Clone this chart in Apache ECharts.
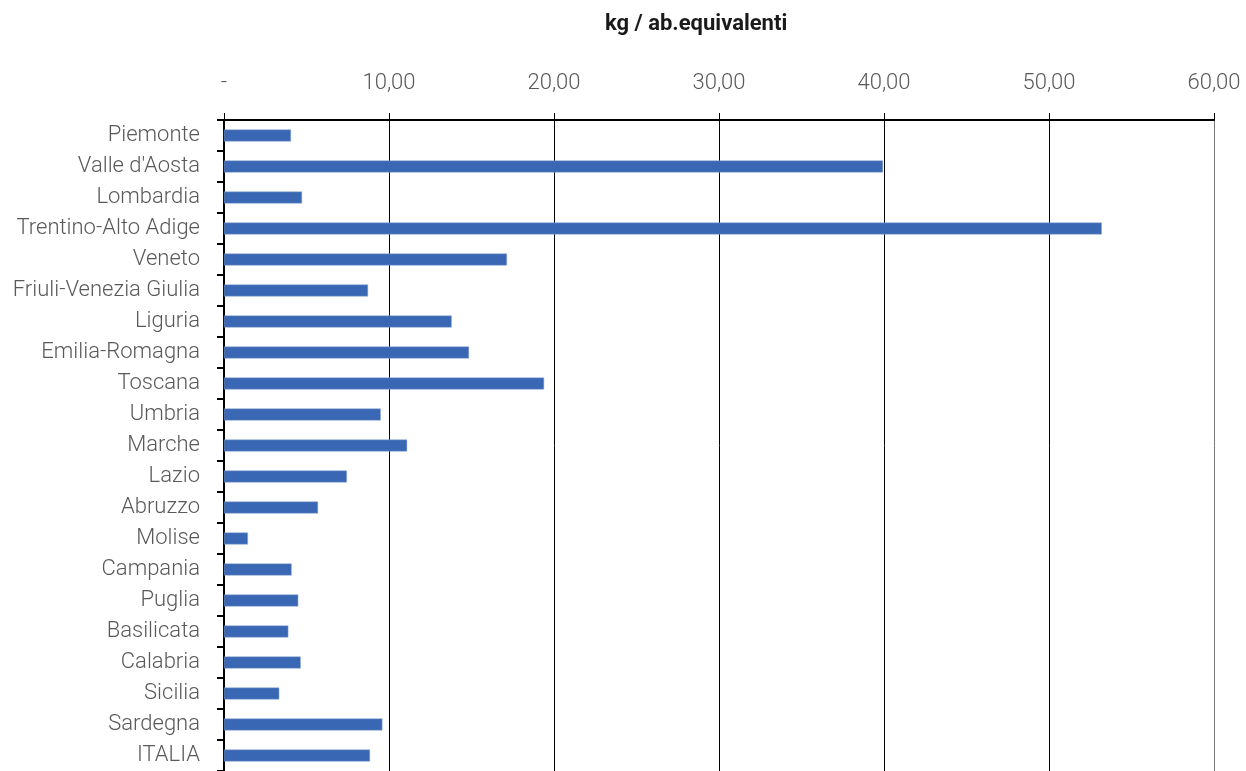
<!DOCTYPE html>
<html>
<head>
<meta charset="utf-8">
<script src="https://cdn.jsdelivr.net/npm/echarts@6/dist/echarts.min.js"></script>
<style>html,body{margin:0;padding:0;background:#fff}#c{width:1246px;height:771px}</style>
</head>
<body>
<div id="c"></div>
<script>
const categories = ["Piemonte","Valle d'Aosta","Lombardia","Trentino-Alto Adige","Veneto","Friuli-Venezia Giulia","Liguria","Emilia-Romagna","Toscana","Umbria","Marche","Lazio","Abruzzo","Molise","Campania","Puglia","Basilicata","Calabria","Sicilia","Sardegna","ITALIA"];
const values = [4.06,39.94,4.73,53.2,17.15,8.73,13.8,14.85,19.4,9.5,11.1,7.45,5.7,1.45,4.1,4.5,3.9,4.65,3.35,9.6,8.85];
const titleText = "kg / ab.equivalenti";

const chart = echarts.init(document.getElementById('c'));
chart.setOption({
  animation: false,
  title: {
    text: titleText, left: 600, top: 8,
    textStyle: {fontFamily: 'Roboto', fontWeight: 'bold', fontSize: 22, color: '#1a1a1a'}
  },
  grid: {left: 224, right: 32, top: 120, height: 652, containLabel: false},
  xAxis: {
    type: 'value', position: 'top', min: 0, max: 60, interval: 10,
    axisLine: {show: true, lineStyle: {color: '#000', width: 2}},
    axisTick: {show: true, length: 7, lineStyle: {color: '#000', width: 1}},
    axisLabel: {
      margin: 26, fontFamily: 'Roboto', fontWeight: 300, fontSize: 22, color: '#595959',
      formatter: v => v === 0 ? '-' : v.toFixed(2).replace('.', ',')
    },
    splitLine: {show: true, lineStyle: {color: ['#000','#000','#000','#000','#000','#000','#777'], width: 1}}
  },
  yAxis: {
    type: 'category', data: categories, inverse: true,
    axisLine: {show: true, lineStyle: {color: '#000', width: 2}},
    axisTick: {show: true, length: 7, lineStyle: {color: '#000', width: 2}},
    axisLabel: {margin: 24, fontFamily: 'Roboto', fontWeight: 300, fontSize: 22, color: '#595959'}
  },
  series: [{
    type: 'bar', data: values, barWidth: 12,
    itemStyle: {color: '#3A67B3', borderColor: '#8fa8d6', borderWidth: 0.5}
  }]
});
</script>
</body>
</html>
